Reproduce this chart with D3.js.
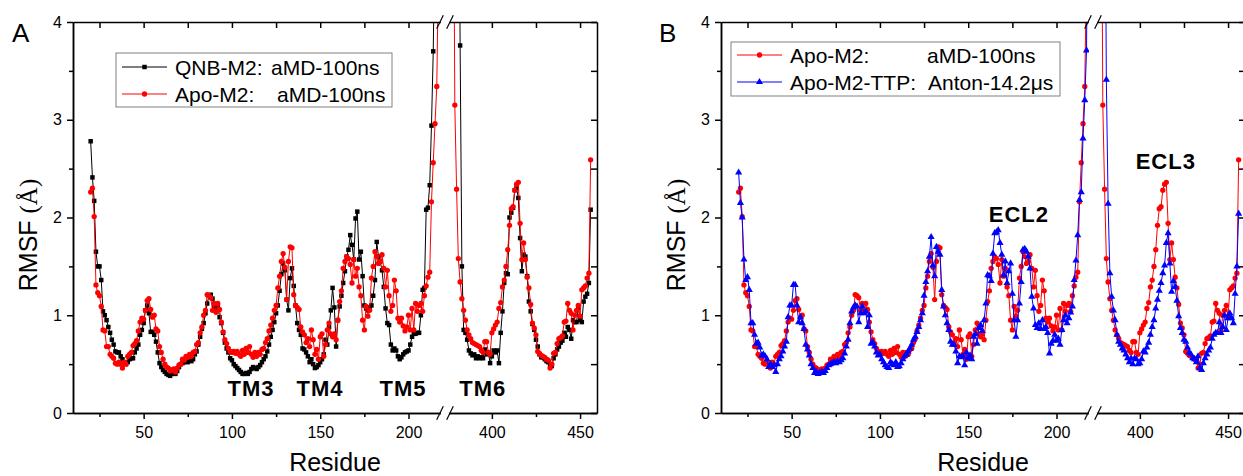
<!DOCTYPE html>
<html>
<head>
<meta charset="utf-8">
<script src="https://cdn.jsdelivr.net/npm/d3@7"></script>
<style>
body { margin: 0; background: #fff; }
svg { display: block; font-family: "Liberation Sans", Arial, sans-serif; }
</style>
</head>
<body>
<svg id="chart" width="1243" height="476"></svg>
<script>
// RMSF per residue, left segment of the broken axis: residues 20..218
var leftStart = 20;
var qnbLeft = [
  2.78, 2.41, 2.17, 1.65, 1.50, 1.50, 1.36, 1.04, 1.00, 0.95,
  0.88, 0.82, 0.75, 0.70, 0.63, 0.62, 0.62, 0.58, 0.55, 0.52,
  0.50, 0.52, 0.55, 0.56, 0.56, 0.62, 0.66, 0.70, 0.80, 0.85,
  0.92, 1.05, 1.10, 1.02, 0.83, 0.83, 0.80, 0.73, 0.62, 0.51,
  0.47, 0.44, 0.42, 0.40, 0.39, 0.38, 0.40, 0.42, 0.40, 0.43,
  0.47, 0.50, 0.51, 0.52, 0.55, 0.52, 0.54, 0.53, 0.55, 0.60,
  0.63, 0.70, 0.78, 0.86, 0.92, 1.02, 1.12, 1.20, 1.21, 1.17,
  1.08, 1.05, 1.10, 0.98, 0.92, 0.82, 0.72, 0.66, 0.62, 0.56,
  0.54, 0.50, 0.48, 0.46, 0.44, 0.42, 0.40, 0.40, 0.41, 0.40,
  0.42, 0.45, 0.47, 0.46, 0.45, 0.47, 0.49, 0.52, 0.55, 0.58,
  0.63, 0.70, 0.78, 0.85, 0.93, 1.02, 1.10, 1.25, 1.42, 1.53,
  1.46, 1.16, 1.05, 1.38, 1.48, 1.30, 1.10, 0.92, 0.85, 0.80,
  0.66, 0.65, 0.62, 0.58, 0.52, 0.55, 0.50, 0.46, 0.47, 0.49,
  0.52, 0.55, 0.60, 0.75, 0.70, 0.88, 1.05, 1.28, 1.08, 0.68,
  0.95, 1.09, 1.20, 1.33, 1.45, 1.60, 1.67, 1.82, 1.72, 1.57,
  1.99, 2.06, 1.57, 1.65, 1.40, 1.10, 1.07, 1.05, 1.08, 1.10,
  1.20, 1.36, 1.75, 1.60, 1.55, 1.46, 1.29, 1.07, 0.92, 0.90,
  0.70, 0.64, 0.66, 0.64, 0.58, 0.55, 0.57, 0.60, 0.62, 0.63,
  0.64, 0.70, 0.78, 0.81, 0.81, 0.82, 0.82, 1.00, 1.26, 1.28,
  2.08, 2.10, 2.33, 2.94, 3.70, 5.00, 6.00, 7.00, 8.00
];
var apoLeft = [
  2.26, 2.30, 2.01, 1.31, 1.23, 1.20, 1.09, 0.85, 0.84, 0.68,
  0.68, 0.60, 0.58, 0.56, 0.51, 0.50, 0.52, 0.50, 0.46, 0.52,
  0.50, 0.58, 0.60, 0.62, 0.69, 0.71, 0.74, 0.84, 0.93, 0.97,
  0.96, 1.05, 1.15, 1.17, 1.06, 0.98, 1.00, 0.86, 0.84, 0.68,
  0.62, 0.55, 0.50, 0.47, 0.46, 0.43, 0.44, 0.45, 0.42, 0.46,
  0.49, 0.50, 0.55, 0.54, 0.58, 0.57, 0.60, 0.58, 0.62, 0.63,
  0.70, 0.72, 0.82, 0.88, 1.00, 1.05, 1.21, 1.20, 1.18, 1.05,
  1.12, 1.03, 1.12, 1.06, 0.93, 0.83, 0.75, 0.71, 0.66, 0.63,
  0.62, 0.63, 0.61, 0.63, 0.60, 0.58, 0.64, 0.60, 0.66, 0.62,
  0.68, 0.60, 0.57, 0.62, 0.58, 0.62, 0.60, 0.65, 0.66, 0.72,
  0.76, 0.84, 0.90, 0.97, 1.05, 1.10, 1.28, 1.40, 1.55, 1.63,
  1.49, 1.16, 1.55, 1.70, 1.69, 1.21, 1.10, 1.08, 1.06, 0.88,
  0.83, 0.80, 0.72, 0.76, 0.68, 0.85, 0.75, 0.60, 0.65, 0.55,
  0.78, 0.81, 0.58, 0.70, 0.85, 0.92, 0.81, 0.78, 0.81, 0.75,
  0.95, 1.14, 1.25, 1.48, 1.55, 1.60, 1.58, 1.52, 1.33, 1.57,
  1.40, 1.48, 1.29, 1.20, 0.95, 0.85, 1.09, 0.99, 1.05, 1.38,
  1.50, 1.65, 1.60, 1.53, 1.55, 1.62, 1.48, 1.29, 1.46, 1.20,
  1.04, 1.10, 1.36, 1.25, 0.97, 0.93, 0.97, 0.89, 0.84, 0.88,
  1.00, 0.85, 1.07, 0.85, 1.12, 1.04, 1.10, 1.12, 1.04, 1.20,
  1.30, 1.39, 1.44, 2.16, 2.56, 2.96, 3.34, 4.60, 6.00
];
var ttpLeft = [
  2.46, 2.15, 2.00, 1.57, 1.36, 1.39, 1.26, 0.92, 0.92, 0.80,
  0.71, 0.72, 0.67, 0.59, 0.60, 0.58, 0.55, 0.47, 0.50, 0.47,
  0.49, 0.42, 0.50, 0.55, 0.58, 0.63, 0.68, 0.73, 0.98, 1.10,
  1.10, 1.31, 1.31, 1.10, 0.93, 0.98, 0.92, 0.86, 0.70, 0.65,
  0.59, 0.50, 0.46, 0.41, 0.42, 0.40, 0.41, 0.42, 0.41, 0.43,
  0.46, 0.49, 0.50, 0.51, 0.52, 0.51, 0.53, 0.52, 0.54, 0.56,
  0.61, 0.68, 0.75, 0.92, 1.04, 1.08, 1.10, 1.09, 0.93, 1.02,
  1.09, 1.02, 1.04, 0.88, 1.00, 0.71, 0.72, 0.68, 0.62, 0.59,
  0.60, 0.55, 0.52, 0.49, 0.47, 0.46, 0.52, 0.50, 0.49, 0.52,
  0.47, 0.48, 0.51, 0.55, 0.58, 0.60, 0.63, 0.66, 0.70, 0.75,
  0.78, 0.83, 0.88, 0.95, 1.02, 1.20, 1.34, 1.45, 1.60, 1.80,
  1.51, 1.40, 1.70, 1.65, 1.62, 1.26, 1.09, 1.00, 0.92, 0.85,
  0.73, 0.70, 0.70, 0.63, 0.51, 0.58, 0.57, 0.58, 0.49, 0.62,
  0.56, 0.59, 0.55, 0.78, 0.81, 0.71, 0.87, 0.90, 0.84, 0.95,
  1.12, 1.41, 1.40, 1.35, 1.63, 1.84, 1.85, 1.87, 1.74, 1.62,
  1.41, 1.55, 1.33, 1.45, 1.53, 1.22, 0.95, 0.78, 0.95, 1.12,
  1.34, 1.67, 1.68, 1.65, 1.60, 1.48, 1.19, 1.07, 0.90, 0.87,
  0.92, 0.86, 0.95, 0.86, 0.88, 0.82, 0.61, 0.71, 0.74, 0.80,
  0.74, 0.76, 0.70, 0.85, 0.95, 1.00, 0.92, 0.97, 1.03, 1.09,
  1.36, 1.56, 1.82, 2.18, 2.26, 2.81, 3.20, 3.71, 6.00
];

// right segment of the broken axis (residues up to 456)
var qnbRightStart = 381;
var qnbRight = [
  7.00, 3.76, 1.50, 0.85, 0.82, 0.75, 0.64, 0.61, 0.59, 0.60,
  0.56, 0.58, 0.56, 0.57, 0.56, 0.65, 0.60, 0.62, 0.51, 0.58,
  0.64, 0.62, 0.64, 0.51, 0.82, 1.04, 1.33, 1.43, 1.42, 2.00,
  2.05, 2.10, 2.28, 2.30, 2.20, 1.79, 1.45, 1.62, 1.60, 1.40,
  1.14, 1.04, 0.91, 0.85, 0.75, 0.68, 0.60, 0.57, 0.57, 0.55,
  0.53, 0.52, 0.49, 0.48, 0.56, 0.60, 0.65, 0.68, 0.72, 0.74,
  0.82, 0.78, 0.88, 0.85, 0.76, 0.95, 0.93, 0.93, 1.08, 0.95,
  0.93, 1.14, 1.19, 1.22, 1.33, 2.08
];
var apoRightStart = 378;
var apoRight = [
  6.50, 3.15, 2.29, 1.58, 1.34, 1.17, 1.05, 0.95, 0.85, 0.80,
  0.76, 0.72, 0.71, 0.70, 0.69, 0.68, 0.64, 0.62, 0.73, 0.73,
  0.62, 0.60, 0.82, 0.86, 0.90, 0.93, 1.07, 1.13, 1.29, 1.36,
  1.50, 1.67, 1.92, 2.09, 2.11, 2.28, 2.34, 2.36, 1.94, 1.57,
  1.74, 1.57, 1.39, 1.28, 1.11, 0.92, 0.87, 0.80, 0.63, 0.61,
  0.59, 0.58, 0.57, 0.55, 0.54, 0.46, 0.50, 0.61, 0.62, 0.71,
  0.76, 0.77, 0.79, 0.93, 0.94, 1.12, 1.05, 1.02, 0.85, 1.00,
  1.05, 1.10, 0.99, 1.26, 1.28, 1.30, 1.38, 1.43, 2.59
];
var ttpRightStart = 379;
var ttpRight = [
  9.00, 6.50, 3.41, 2.14, 1.43, 1.19, 1.05, 0.95, 0.80, 0.73,
  0.70, 0.66, 0.64, 0.60, 0.56, 0.52, 0.56, 0.50, 0.56, 0.55,
  0.50, 0.51, 0.55, 0.63, 0.62, 0.67, 0.72, 0.80, 0.88, 0.95,
  1.07, 1.16, 1.25, 1.33, 1.43, 1.51, 1.74, 1.84, 1.53, 1.24,
  1.35, 1.29, 1.15, 0.99, 0.87, 0.82, 0.75, 0.73, 0.67, 0.62,
  0.60, 0.56, 0.55, 0.52, 0.58, 0.46, 0.44, 0.51, 0.56, 0.60,
  0.64, 0.67, 0.76, 0.80, 0.82, 0.82, 0.93, 0.82, 0.88, 1.00,
  0.85, 0.97, 1.02, 0.97, 0.92, 1.22, 1.50, 2.04
];

var xMajorLeft = [50, 100, 150, 200];
var xMinorLeft = [25, 75, 125, 175];
var xMajorRight = [400, 450];
var xMinorRight = [425];
var yMajor = [0, 1, 2, 3, 4];
var yMinor = [0.5, 1.5, 2.5, 3.5];

var labelsA = [
  {text: 'TM3', res: 110.8, seg: 'L', v: 0.17},
  {text: 'TM4', res: 149.9, seg: 'L', v: 0.17},
  {text: 'TM5', res: 196.9, seg: 'L', v: 0.17},
  {text: 'TM6', res: 394.9, seg: 'R', v: 0.17}
];
var labelsB = [
  {text: 'ECL2', res: 178.7, seg: 'L', v: 1.95},
  {text: 'ECL3', res: 414.7, seg: 'R', v: 2.50}
];

var svg = d3.select('#chart');
var font = '"Liberation Sans", Arial, sans-serif';

var y = d3.scaleLinear().domain([0, 4]).range([413, 22]);
var xL = d3.scaleLinear().domain([10, 218]).range([73, 440.3]);
var xR = d3.scaleLinear().domain([375.7, 459.6]).range([449, 597]);

var symbols = {
    square: {type: d3.symbolSquare, size: 20},
    circle: {type: d3.symbolCircle, size: 22},
    triangle: {type: d3.symbolTriangle, size: 22}
};

var drawSeries = function(g, start, values, x, color, sym, clipId) {
    var pts = values.map(function(v, i) { return {r: start + i, v: v}; });
    var sg = g.append('g').attr('clip-path', 'url(#' + clipId + ')');
    sg.append('path').datum(pts)
        .attr('fill', 'none')
        .attr('stroke', color)
        .attr('stroke-width', 1)
        .attr('d', d3.line().x(function(d) { return x(d.r); }).y(function(d) { return y(d.v); }));
    sg.selectAll('.pt').data(pts)
        .enter().append('path')
        .attr('class', 'pt')
        .attr('fill', color)
        .attr('d', d3.symbol().type(symbols[sym].type).size(symbols[sym].size))
        .attr('transform', function(d) { return 'translate(' + x(d.r) + ',' + y(d.v) + ')'; });
}

var styleAxis = function(sel) {
    sel.selectAll('path, line').attr('stroke', '#000').attr('stroke-width', 1.5);
    sel.selectAll('text').attr('fill', '#000').style('font-size', '16px').style('font-family', font);
}

var drawPanel = function(dx, id, series, letter, labels, legend) {
    var g = svg.append('g').attr('transform', 'translate(' + dx + ',0)');

    g.append('clipPath').attr('id', id + 'L').append('rect')
        .attr('x', 73).attr('y', 22).attr('width', 368).attr('height', 400);
    g.append('clipPath').attr('id', id + 'R').append('rect')
        .attr('x', 449).attr('y', 22).attr('width', 148).attr('height', 400);

    series.forEach(function(s) {
        drawSeries(g, leftStart, s.left, xL, s.color, s.sym, id + 'L');
        drawSeries(g, s.rightStart, s.right, xR, s.color, s.sym, id + 'R');
    });

    // bottom and top axes, both segments
    [[xL, xMajorLeft, xMinorLeft], [xR, xMajorRight, xMinorRight]].forEach(function(a) {
        g.append('g').attr('transform', 'translate(0,413)')
            .call(d3.axisBottom(a[0]).tickValues(a[1]).tickSize(6).tickSizeOuter(0).tickPadding(8))
            .call(styleAxis);
        g.append('g').attr('transform', 'translate(0,413)')
            .call(d3.axisBottom(a[0]).tickValues(a[2]).tickSize(4).tickSizeOuter(0).tickFormat(''))
            .call(styleAxis);
        g.append('g').attr('transform', 'translate(0,22)')
            .call(d3.axisTop(a[0]).tickValues(a[1].concat(a[2])).tickSize(-6).tickSizeOuter(0).tickFormat(''))
            .call(styleAxis);
    });

    g.append('g').attr('transform', 'translate(73,0)')
        .call(d3.axisLeft(y).tickValues(yMajor).tickSize(6).tickSizeOuter(0).tickPadding(5).tickFormat(d3.format('d')))
        .call(styleAxis);
    g.append('g').attr('transform', 'translate(73,0)')
        .call(d3.axisLeft(y).tickValues(yMinor).tickSize(4).tickSizeOuter(0).tickFormat(''))
        .call(styleAxis);
    g.append('g').attr('transform', 'translate(597,0)')
        .call(d3.axisRight(y).tickValues(yMajor.concat(yMinor)).tickSize(-6).tickSizeOuter(0).tickFormat(''))
        .call(styleAxis);

    // axis break marks
    [22, 413].forEach(function(yy) {
        [440, 450].forEach(function(xx) {
            g.append('line')
                .attr('x1', xx - 3.3).attr('y1', yy + 6.7)
                .attr('x2', xx + 3.3).attr('y2', yy - 6.7)
                .attr('stroke', '#000').attr('stroke-width', 1.2);
        });
    });

    var yt = g.append('text')
        .attr('transform', 'translate(37,235) rotate(-90)')
        .style('text-anchor', 'middle').style('font-size', '25px').style('font-family', font);
    yt.append('tspan').text('RMSF ');
    yt.append('tspan').style('font-family', '"Liberation Serif", "Times New Roman", serif').text('(Å)');

    g.append('text')
        .attr('x', 335).attr('y', 471)
        .style('text-anchor', 'middle').style('font-size', '25px').style('font-family', font)
        .text('Residue');
    g.append('text')
        .attr('x', 12 + (letter === 'B' ? -1 : 0)).attr('y', 42)
        .style('font-size', '26px').style('font-family', font)
        .text(letter);

    labels.forEach(function(l) {
        var x = l.seg === 'L' ? xL : xR;
        g.append('text')
            .attr('x', x(l.res)).attr('y', y(l.v))
            .style('text-anchor', 'middle').style('font-size', '22px').style('font-weight', 'bold')
            .style('letter-spacing', '1px').style('font-family', font)
            .text(l.text);
    });

    // legend
    g.append('rect')
        .attr('x', legend.x).attr('y', legend.y).attr('width', legend.w).attr('height', legend.h)
        .attr('fill', 'white').attr('stroke', '#808080').attr('stroke-width', 1);
    legend.rows.forEach(function(r, i) {
        var ry = legend.rowY[i];
        g.append('line')
            .attr('x1', legend.x + 6).attr('x2', legend.x + 51).attr('y1', ry).attr('y2', ry)
            .attr('stroke', r.color).attr('stroke-width', 1);
        g.append('path')
            .attr('d', d3.symbol().type(symbols[r.sym].type).size(symbols[r.sym].size))
            .attr('transform', 'translate(' + (legend.x + 28.5) + ',' + ry + ')')
            .attr('fill', r.color);
        g.append('text')
            .attr('x', legend.x + 59).attr('y', ry + 7.5)
            .style('font-size', '21px').style('font-family', font)
            .text(r.name);
        g.append('text')
            .attr('x', r.runX).attr('y', ry + 7.5)
            .style('font-size', '21px').style('font-family', font)
            .text(r.run);
    });
}

drawPanel(0, 'pa', [
    {left: qnbLeft, right: qnbRight, rightStart: qnbRightStart, color: '#000000', sym: 'square'},
    {left: apoLeft, right: apoRight, rightStart: apoRightStart, color: '#ff0000', sym: 'circle'}
], 'A', labelsA, {
    x: 116, y: 53, w: 276, h: 54, rowY: [67, 94],
    rows: [
        {name: 'QNB-M2:', run: 'aMD-100ns', runX: 271, color: '#000000', sym: 'square'},
        {name: 'Apo-M2:', run: 'aMD-100ns', runX: 277, color: '#ff0000', sym: 'circle'}
    ]
});

drawPanel(648, 'pb', [
    {left: apoLeft, right: apoRight, rightStart: apoRightStart, color: '#ff0000', sym: 'circle'},
    {left: ttpLeft, right: ttpRight, rightStart: ttpRightStart, color: '#0000ff', sym: 'triangle'}
], 'B', labelsB, {
    x: 83, y: 42, w: 329, h: 54, rowY: [55, 82],
    rows: [
        {name: 'Apo-M2:', run: 'aMD-100ns', runX: 279, color: '#ff0000', sym: 'circle'},
        {name: 'Apo-M2-TTP:', run: 'Anton-14.2\u03bcs', runX: 280, color: '#0000ff', sym: 'triangle'}
    ]
});
</script>
</body>
</html>
